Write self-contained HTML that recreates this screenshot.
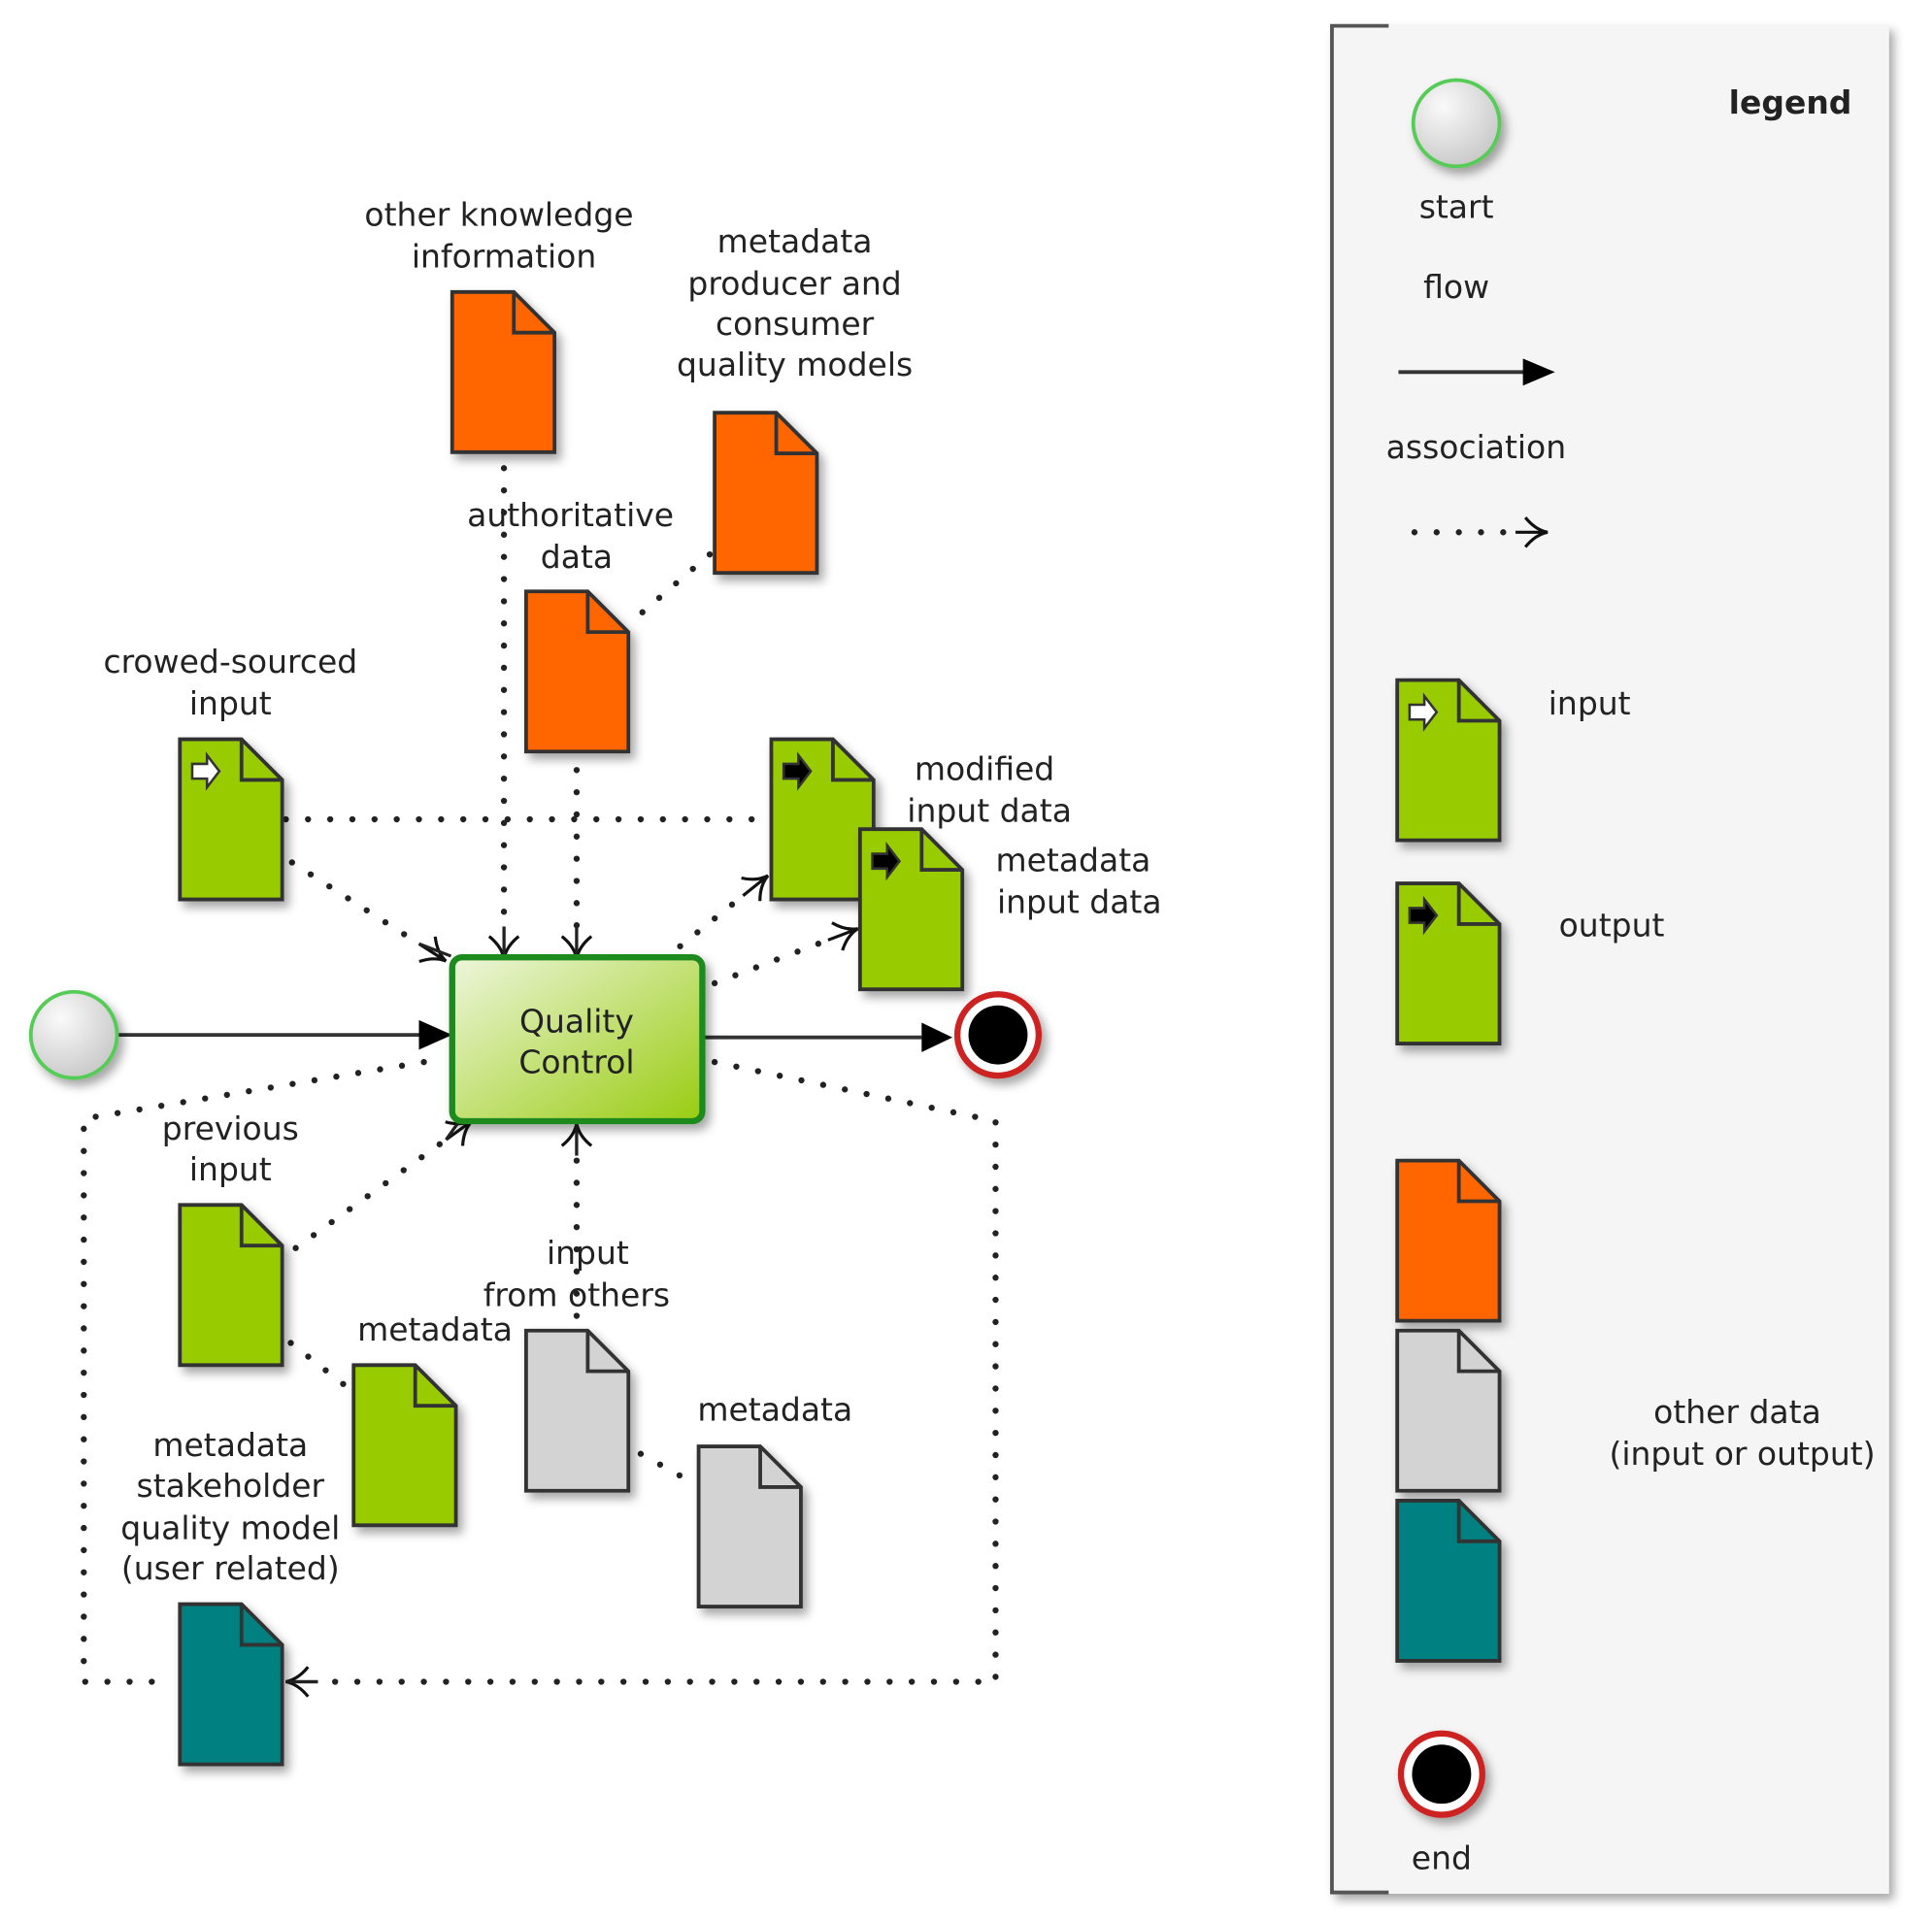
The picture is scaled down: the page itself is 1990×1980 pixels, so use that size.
<!DOCTYPE html>
<html><head><meta charset="utf-8"><style>
html,body{margin:0;padding:0;background:#fff;}
svg{display:block;}
text{font-family:"DejaVu Sans","Liberation Sans",sans-serif;font-size:26px;fill:#222;text-anchor:middle;}
</style></head><body>
<svg width="1990" height="1980" viewBox="0 0 1568 1560" preserveAspectRatio="none" xmlns="http://www.w3.org/2000/svg">
<defs>
<filter id="sh" x="-20%" y="-20%" width="150%" height="150%"><feDropShadow dx="4" dy="5" stdDeviation="4" flood-color="#000" flood-opacity="0.35"/></filter>
<radialGradient id="gs" cx="35%" cy="30%" r="75%"><stop offset="0" stop-color="#fafafa"/><stop offset="1" stop-color="#c8c8c8"/></radialGradient>
<linearGradient id="qc" x1="0" y1="0" x2="1" y2="1"><stop offset="0" stop-color="#eef6dc"/><stop offset="1" stop-color="#99cc11"/></linearGradient>
<marker id="as" markerUnits="userSpaceOnUse" markerWidth="40" markerHeight="40" refX="0" refY="20" orient="auto" viewBox="0 0 40 40">
<path d="M0,20 H26 M8,8 Q16,18 26,20 Q16,22 8,32" fill="none" stroke="#111" stroke-width="2.5"/>
</marker>
<path id="doc" d="M0,0 H50 L83,33 V130 H0 Z"/>
<path id="fold" d="M50,0 V33 H83"/>
<path id="inarr" d="M10,20 H22 V13 L32,26 L22,39 V32 H10 Z"/>
</defs>

<rect x="1080" y="20" width="453" height="1517" fill="#f5f5f5" filter="url(#sh)"/>
<path d="M1127,21 H1081 V1536 H1127" fill="none" stroke="#555" stroke-width="3"/>

<g fill="none" stroke="#222" stroke-width="5" stroke-dasharray="0 18" stroke-linecap="round">
<path d="M232,665 H624"/>
<path d="M237,700 L340,766" marker-end="url(#as)"/>
<path d="M409,380 V752" marker-end="url(#as)"/>
<path d="M468,625 V752" marker-end="url(#as)"/>
<path d="M576,450 L512,505"/>
<path d="M552,768 L603,727" marker-end="url(#as)"/>
<path d="M580,798 L672,763" marker-end="url(#as)"/>
<path d="M240,1013 L362,925" marker-end="url(#as)"/>
<path d="M236,1090 L287,1130"/>
<path d="M468,1068 V938" marker-end="url(#as)"/>
<path d="M520,1180 L565,1205"/>
<path d="M344,862 L68,908 V1365 H140"/>
<path d="M580,862 L808,910 V1365 H258" marker-end="url(#as)"/>
<path d="M1148,432 H1230" marker-end="url(#as)"/>
</g>
<g fill="none" stroke="#222" stroke-width="2.5">
<path d="M340,766 l26,10"/>
<path d="M409,752 V776"/><path d="M468,752 V776"/>
<path d="M362,925 l10,-14"/><path d="M468,938 V912"/>
<path d="M258,1365 H232"/>
</g>

<g stroke="#333" stroke-width="3"><path d="M95,840 H342"/><path d="M572,842 H748"/><path d="M1135,302 H1238"/></g>
<path d="M340,828 L367,840 L340,852 Z" fill="#000"/>
<path d="M748,830 L773,842 L748,854 Z" fill="#000"/>
<path d="M1236,291 L1262,302 L1236,313 Z" fill="#000"/>

<rect x="367" y="777" width="203" height="133" rx="8" fill="url(#qc)" stroke="#1a8a1a" stroke-width="5" filter="url(#sh)"/>
<text x="468" y="838">Quality</text><text x="468" y="871">Control</text>

<circle cx="60" cy="840" r="35" fill="url(#gs)" stroke="#5c5" stroke-width="3" filter="url(#sh)"/>
<circle cx="810" cy="840" r="33" fill="#fff" stroke="#c22" stroke-width="5" filter="url(#sh)"/>
<circle cx="810" cy="840" r="24" fill="#000"/>
<circle cx="1182" cy="100" r="35" fill="url(#gs)" stroke="#5c5" stroke-width="3" filter="url(#sh)"/>
<circle cx="1170" cy="1440" r="33" fill="#fff" stroke="#c22" stroke-width="5" filter="url(#sh)"/>
<circle cx="1170" cy="1440" r="24" fill="#000"/>

<g stroke="#333" stroke-width="3">
<g transform="translate(367,237)"><use href="#doc" fill="#ff6600" filter="url(#sh)"/><use href="#fold" fill="none"/></g>
<g transform="translate(580,335)"><use href="#doc" fill="#ff6600" filter="url(#sh)"/><use href="#fold" fill="none"/></g>
<g transform="translate(427,480)"><use href="#doc" fill="#ff6600" filter="url(#sh)"/><use href="#fold" fill="none"/></g>
<g transform="translate(146,600)"><use href="#doc" fill="#99cc00" filter="url(#sh)"/><use href="#fold" fill="none"/><use href="#inarr" fill="#fff" stroke-width="2"/></g>
<g transform="translate(626,600)"><use href="#doc" fill="#99cc00" filter="url(#sh)"/><use href="#fold" fill="none"/><use href="#inarr" fill="#000" stroke-width="2"/></g>
<g transform="translate(698,673)"><use href="#doc" fill="#99cc00" filter="url(#sh)"/><use href="#fold" fill="none"/><use href="#inarr" fill="#000" stroke-width="2"/></g>
<g transform="translate(146,978)"><use href="#doc" fill="#99cc00" filter="url(#sh)"/><use href="#fold" fill="none"/></g>
<g transform="translate(287,1108)"><use href="#doc" fill="#99cc00" filter="url(#sh)"/><use href="#fold" fill="none"/></g>
<g transform="translate(427,1080)"><use href="#doc" fill="#d3d3d3" filter="url(#sh)"/><use href="#fold" fill="none"/></g>
<g transform="translate(567,1174)"><use href="#doc" fill="#d3d3d3" filter="url(#sh)"/><use href="#fold" fill="none"/></g>
<g transform="translate(146,1302)"><use href="#doc" fill="#008080" filter="url(#sh)"/><use href="#fold" fill="none"/></g>
<g transform="translate(1134,552)"><use href="#doc" fill="#99cc00" filter="url(#sh)"/><use href="#fold" fill="none"/><use href="#inarr" fill="#fff" stroke-width="2"/></g>
<g transform="translate(1134,717)"><use href="#doc" fill="#99cc00" filter="url(#sh)"/><use href="#fold" fill="none"/><use href="#inarr" fill="#000" stroke-width="2"/></g>
<g transform="translate(1134,942)"><use href="#doc" fill="#ff6600" filter="url(#sh)"/><use href="#fold" fill="none"/></g>
<g transform="translate(1134,1080)"><use href="#doc" fill="#d3d3d3" filter="url(#sh)"/><use href="#fold" fill="none"/></g>
<g transform="translate(1134,1218)"><use href="#doc" fill="#008080" filter="url(#sh)"/><use href="#fold" fill="none"/></g>
</g>

<text x="405" y="183">other knowledge</text><text x="409" y="217">information</text>
<text x="645" y="205">metadata</text><text x="645" y="239">producer and</text><text x="645" y="272">consumer</text><text x="645" y="305">quality models</text>
<text x="463" y="427">authoritative</text><text x="468" y="461">data</text>
<text x="187" y="546">crowed-sourced</text><text x="187" y="580">input</text>
<text x="799" y="633">modified</text><text x="803" y="667">input data</text>
<text x="871" y="707">metadata</text><text x="876" y="741">input data</text>
<text x="187" y="925">previous</text><text x="187" y="958">input</text>
<text x="477" y="1026">input</text><text x="468" y="1060">from others</text>
<text x="353" y="1088">metadata</text>
<text x="629" y="1153">metadata</text>
<text x="187" y="1182">metadata</text><text x="187" y="1215">stakeholder</text><text x="187" y="1249">quality model</text><text x="187" y="1282">(user related)</text>
<text x="1453" y="92" style="font-weight:bold">legend</text>
<text x="1182" y="177">start</text><text x="1182" y="242">flow</text><text x="1198" y="372">association</text>
<text x="1290" y="580">input</text><text x="1308" y="760">output</text>
<text x="1410" y="1155">other data</text><text x="1414" y="1189">(input or output)</text>
<text x="1170" y="1517">end</text>
</svg>
</body></html>
